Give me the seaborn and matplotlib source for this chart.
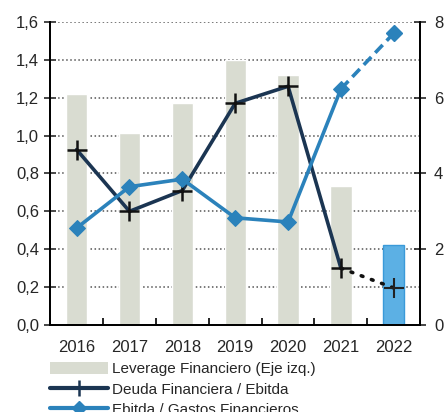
import matplotlib
matplotlib.use("Agg")
import matplotlib.pyplot as plt
import seaborn as sns
from matplotlib.lines import Line2D
from matplotlib.patches import Patch

years = ['2016', '2017', '2018', '2019', '2020', '2021', '2022']
leverage = [1.22, 1.015, 1.17, 1.40, 1.32, 0.735, 0.42]
deuda_ebitda = [4.63, 3.0, 3.55, 5.85, 6.3, 1.5, 0.98]
ebitda_gastos = [2.56, 3.65, 3.85, 2.83, 2.72, 6.23, 7.7]

left_ticks = [0, 0.2, 0.4, 0.6, 0.8, 1.0, 1.2, 1.4, 1.6]
left_labels = ['0,0', '0,2', '0,4', '0,6', '0,8', '1,0', '1,2', '1,4', '1,6']
right_ticks = [0, 2, 4, 6, 8]

bar_colors = ['#d9dcd1'] * 6 + ['#5cb0e4']
navy = '#1b3552'
blue = '#2b82bb'

sns.set_style('white')
plt.rcParams['font.family'] = ['Liberation Sans Narrow', 'Liberation Sans', 'DejaVu Sans']

fig = plt.figure(figsize=(4.48, 4.12), dpi=100)
ax = fig.add_axes([0.112, 0.211, 0.826, 0.736])

sns.barplot(x=years, y=leverage, hue=years, palette=bar_colors, legend=False,
            width=0.4, ax=ax, saturation=1, zorder=2)
ax.patches[-1].set_edgecolor('#3a9ad9')
ax.patches[-1].set_linewidth(1)

ax.set_ylim(0, 1.6)
ax.set_yticks(left_ticks)
ax.set_yticklabels(left_labels)
ax.set_xlim(-0.5, 6.5)

# x ticks at the boundaries between categories
ax.set_xticks([i + 0.5 for i in range(-1, 7)], minor=True)
ax.set_xticks(range(7))
ax.set_xticklabels(years)
ax.tick_params(axis='x', which='major', length=0, labelsize=12, pad=11)
ax.tick_params(axis='x', which='minor', direction='in', length=5, width=1.2, color='black', bottom=True)
ax.tick_params(axis='y', direction='inout', length=8, width=1.2, labelsize=12, left=True, pad=4)

for s in ['left', 'bottom', 'right']:
    ax.spines[s].set_color('black')
    ax.spines[s].set_linewidth(1.3)
ax.spines['top'].set_visible(False)

ax2 = ax.twinx()
ax2.patch.set_visible(False)
ax2.set_ylim(0, 8)
ax2.set_yticks(right_ticks)
ax2.tick_params(axis='y', direction='inout', length=8, width=1.2, labelsize=12, right=True, pad=6)
for s in ['left', 'bottom', 'right']:
    ax2.spines[s].set_color('black')
    ax2.spines[s].set_linewidth(1.3)
ax2.spines['top'].set_visible(False)
ax2.grid(False)

# dotted horizontal guides (right axis shares the same grid: 8 = 1.6)
for t in left_ticks[1:]:
    ax.plot([-0.5, 6.5], [t, t], linestyle=':', color='#555555', linewidth=1.1, zorder=1)

pos = list(range(7))
sns.lineplot(x=pos[:6], y=deuda_ebitda[:6], color=navy, linewidth=2.6, marker='+',
             markersize=14, markeredgewidth=1.8, markeredgecolor='#111111', ax=ax2)
sns.lineplot(x=pos[5:], y=deuda_ebitda[5:], color='#111111', linewidth=2.6,
             linestyle=(0, (0.5, 2.5)), dash_capstyle='round', ax=ax2)
ax2.plot(pos[6], deuda_ebitda[6], marker='+', markersize=14, markeredgewidth=1.5,
         color='#222222', linestyle='none')

sns.lineplot(x=pos[:6], y=ebitda_gastos[:6], color=blue, linewidth=2.6, marker='D',
             markersize=8, markeredgecolor=blue, ax=ax2)
sns.lineplot(x=pos[5:], y=ebitda_gastos[5:], color=blue, linewidth=2.6,
             linestyle=(0, (3, 1.6)), ax=ax2)
ax2.plot(pos[6], ebitda_gastos[6], marker='D', markersize=8, color=blue, linestyle='none')

handles = [
    Patch(facecolor='#d9dcd1', edgecolor='none'),
    Line2D([], [], color=navy, linewidth=3, marker='+', markersize=12, markeredgewidth=1.8),
    Line2D([], [], color=blue, linewidth=3, marker='D', markersize=7),
]
labels = ['Leverage Financiero (Eje izq.)', 'Deuda Financiera / Ebitda',
          'Ebitda / Gastos Financieros']
fig.legend(handles, labels, loc='upper left', bbox_to_anchor=(0.112, 0.122),
           frameon=False, fontsize=11, handlelength=3.8, handleheight=0.9,
           handletextpad=0.25, labelspacing=0.38, borderpad=0, borderaxespad=0)

fig.savefig('out.png', dpi=100)
